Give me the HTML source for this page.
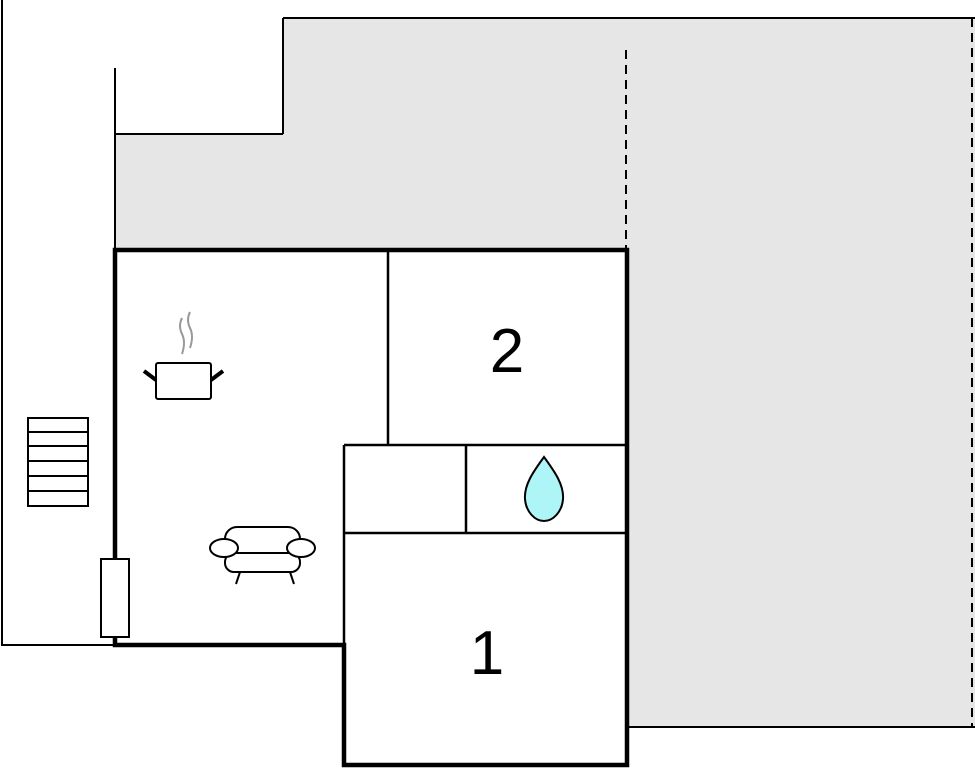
<!DOCTYPE html>
<html><head><style>body{margin:0;background:#fff}svg{display:block}</style></head><body>
<svg width="975" height="768" viewBox="0 0 975 768" xmlns="http://www.w3.org/2000/svg">
<path d="M115 134H283V18H975V727H627V250H115Z" fill="#e6e6e6"/>
<g stroke="#000" stroke-width="2" fill="none">
<path d="M283 18H975M283 18V134M115 134H283M115 68V250M2 0V645H115M627 727H975"/>
<path d="M626 50V248M972 18V727" stroke-dasharray="9 6"/>
</g>
<rect x="115" y="250" width="512" height="395" fill="#fff"/>
<rect x="344" y="645" width="283" height="120" fill="#fff"/>
<g stroke="#000" stroke-width="2.5" fill="none">
<path d="M388 250V445M344 445H625M344 445V645M466 445V533M344 533H625"/>
</g>
<path d="M115 250H627V765H344V645H115Z" stroke="#000" stroke-width="4.5" fill="none"/>
<g stroke="#000" stroke-width="2" fill="#fff">
<rect x="28" y="418" width="60" height="88"/>
<path d="M28 432H88M28 446H88M28 461H88M28 476H88M28 491H88"/>
<rect x="101" y="559" width="28" height="78"/>
</g>
<!-- pot -->
<g stroke="#999" stroke-width="2" fill="none"><path d="M182 318q-4 8 0 16q4 8 0 20M190 312q-4 8 0 16q4 8 0 20"/></g>
<rect x="156" y="363" width="55" height="36" rx="2" stroke="#000" stroke-width="2" fill="#fff"/>
<path d="M144 371L156 380M223 371L211 380" stroke="#000" stroke-width="4"/>
<!-- sofa -->
<g stroke="#000" stroke-width="2" fill="#fff">
<rect x="225" y="527" width="75" height="32" rx="12"/>
<rect x="225" y="553" width="75" height="19" rx="9"/>
<ellipse cx="224" cy="548" rx="14" ry="9"/>
<ellipse cx="301" cy="548" rx="14" ry="9"/>
<path d="M240 572L236 584M290 572L294 584" fill="none"/>
</g>
<path d="M544 457C533 472 524 485 525 499C526 512 535 521 544 521C553 521 562 512 563 499C564 485 555 472 544 457Z" fill="#aef5f7" stroke="#000" stroke-width="2"/>
<text x="507" y="372" font-family="Liberation Sans, sans-serif" font-size="62" text-anchor="middle">2</text>
<text x="487" y="674" font-family="Liberation Sans, sans-serif" font-size="62" text-anchor="middle">1</text>
</svg>
</body></html>
